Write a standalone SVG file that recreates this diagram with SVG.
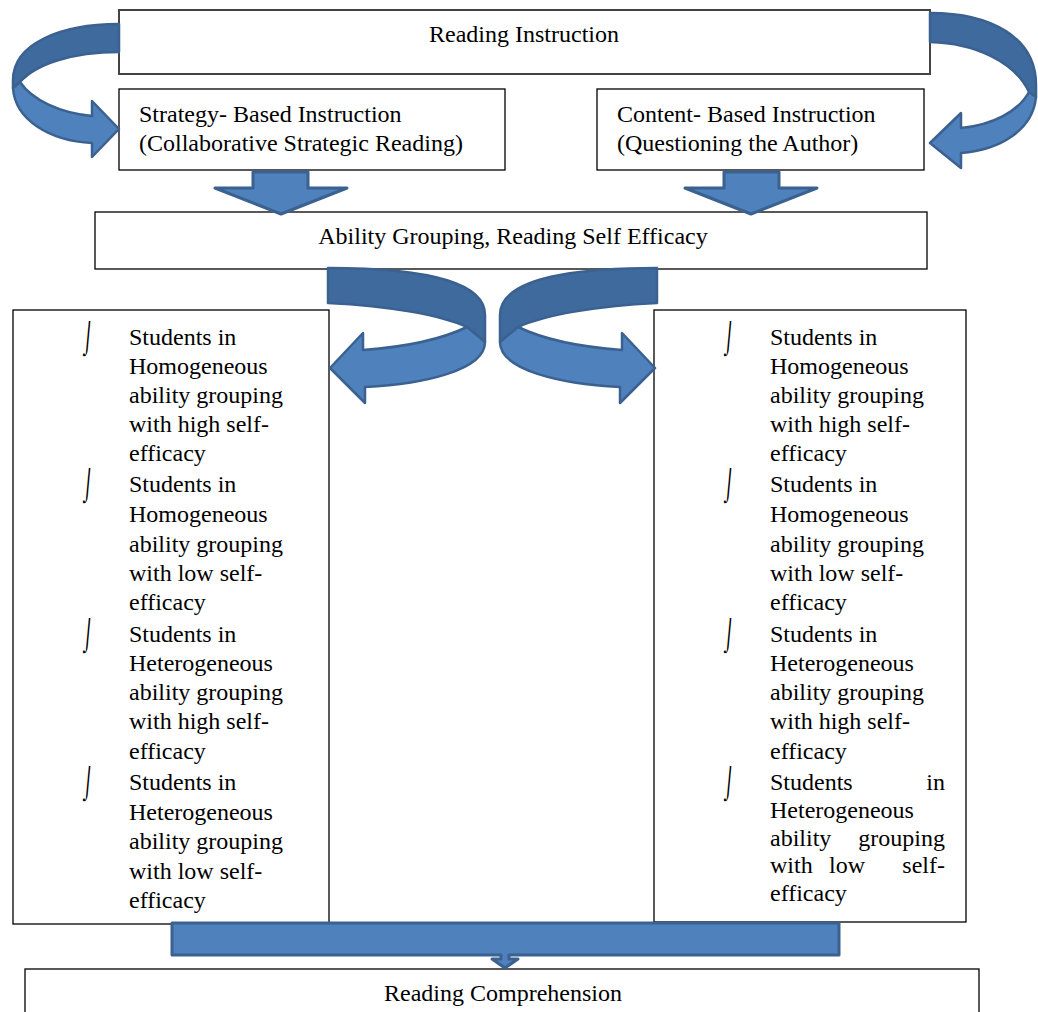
<svg xmlns="http://www.w3.org/2000/svg" width="1038" height="1012" viewBox="0 0 1038 1012">
<style>
.box{fill:#fff;stroke:#000;stroke-width:1.3}
.t{font-family:"Liberation Serif","Times New Roman",serif;font-size:24px;fill:#000}
.c{text-anchor:middle}
.e{text-anchor:end}
.b{font-family:"DejaVu Sans",sans-serif;font-weight:200;font-size:24px;fill:#000}
.lt{fill:#4F81BD;stroke:#3A6190;stroke-width:2.5;stroke-linejoin:round}
.dk{fill:#3F6A9E;stroke:#3A6190;stroke-width:2.5;stroke-linejoin:round}
</style>
<g id="reading-instruction"><rect class="box" x="119" y="10" width="811" height="64" style="stroke:#444;stroke-width:2"/><text class="t c" x="524" y="42">Reading Instruction</text></g>
<g id="strategy"><rect class="box" x="119" y="89" width="386" height="81"/><text class="t" x="139" y="122">Strategy- Based Instruction</text><text class="t" x="139" y="151">(Collaborative Strategic Reading)</text></g>
<g id="content"><rect class="box" x="597" y="89" width="327" height="81"/><text class="t" x="617" y="122">Content- Based Instruction</text><text class="t" x="617" y="151">(Questioning the Author)</text></g>
<g id="ability"><rect class="box" x="95" y="212" width="832" height="57"/><text class="t c" x="513" y="244">Ability Grouping, Reading Self Efficacy</text></g>
<g id="left-groups"><rect class="box" x="13" y="310" width="316" height="614"/>
<text class="b" transform="translate(81,347) scale(0.85,1.3) skewX(-8)">⌡</text><text class="b" transform="translate(81,494) scale(0.85,1.3) skewX(-8)">⌡</text><text class="b" transform="translate(81,644) scale(0.85,1.3) skewX(-8)">⌡</text><text class="b" transform="translate(81,792) scale(0.85,1.3) skewX(-8)">⌡</text>
<text class="t" x="129" y="345">Students in</text><text class="t" x="129" y="374">Homogeneous</text><text class="t" x="129" y="403">ability grouping</text><text class="t" x="129" y="432">with high self-</text><text class="t" x="129" y="461">efficacy</text>
<text class="t" x="129" y="492">Students in</text><text class="t" x="129" y="522">Homogeneous</text><text class="t" x="129" y="552">ability grouping</text><text class="t" x="129" y="581">with low self-</text><text class="t" x="129" y="610">efficacy</text>
<text class="t" x="129" y="642">Students in</text><text class="t" x="129" y="671">Heterogeneous</text><text class="t" x="129" y="700">ability grouping</text><text class="t" x="129" y="729">with high self-</text><text class="t" x="129" y="759">efficacy</text>
<text class="t" x="129" y="790">Students in</text><text class="t" x="129" y="820">Heterogeneous</text><text class="t" x="129" y="849">ability grouping</text><text class="t" x="129" y="879">with low self-</text><text class="t" x="129" y="908">efficacy</text>
</g>
<g id="right-groups"><rect class="box" x="654" y="310" width="312" height="612"/>
<text class="b" transform="translate(722,347) scale(0.85,1.3) skewX(-8)">⌡</text><text class="b" transform="translate(722,494) scale(0.85,1.3) skewX(-8)">⌡</text><text class="b" transform="translate(722,644) scale(0.85,1.3) skewX(-8)">⌡</text><text class="b" transform="translate(722,792) scale(0.85,1.3) skewX(-8)">⌡</text>
<text class="t" x="770" y="345">Students in</text><text class="t" x="770" y="374">Homogeneous</text><text class="t" x="770" y="403">ability grouping</text><text class="t" x="770" y="432">with high self-</text><text class="t" x="770" y="461">efficacy</text>
<text class="t" x="770" y="492">Students in</text><text class="t" x="770" y="522">Homogeneous</text><text class="t" x="770" y="552">ability grouping</text><text class="t" x="770" y="581">with low self-</text><text class="t" x="770" y="610">efficacy</text>
<text class="t" x="770" y="642">Students in</text><text class="t" x="770" y="671">Heterogeneous</text><text class="t" x="770" y="700">ability grouping</text><text class="t" x="770" y="729">with high self-</text><text class="t" x="770" y="759">efficacy</text>
<text class="t" x="770" y="790">Students</text><text class="t e" x="945" y="790">in</text>
<text class="t" x="770" y="818">Heterogeneous</text>
<text class="t" x="770" y="846">ability</text><text class="t e" x="945" y="846">grouping</text>
<text class="t" x="770" y="873">with</text><text class="t c" x="847" y="873">low</text><text class="t e" x="945" y="873">self-</text>
<text class="t" x="770" y="901">efficacy</text>
</g>
<g id="reading-comprehension"><rect class="box" x="25" y="969" width="954" height="60"/><text class="t c" x="503" y="1001">Reading Comprehension</text></g>
<g id="connectors">
<path class="dk" d="M119,24 C60,24 13,44 13,80 L13,88 L20,82 C36,64 72,52 119,52 Z"/>
<path class="lt" d="M13,88 C15,120 50,141 92,143 L92,157 L119,129 L92,101 L92,116 C60,113 32,100 20,82 Z"/>
<path class="dk" d="M930,13 C992,13 1036,38 1036,85 L1036,97 L1029,92 C1015,62 975,43 930,42 Z"/>
<path class="lt" d="M1036,97 C1033,130 1000,150 961,153 L961,168 L930,143 L961,113 L961,128 C992,125 1018,112 1029,92 Z"/>
<path class="lt" d="M253,172 L308,172 L308,188 L347,188 L281,214 L215,188 L253,188 Z" style="stroke-width:3"/>
<path class="lt" d="M724,172 L779,172 L779,188 L817,188 L751,214 L685,188 L724,188 Z" style="stroke-width:3"/>
<g id="split-left">
<path class="dk" d="M328,268 C425,268 485,282 485,315 L485,342 L467,327 C440,315 390,306 328,303 Z"/>
<path class="lt" d="M485,342 C485,370 425,384 365,387 L365,403 L330,368 L363,333 L363,350 C405,347 440,340 467,327 Z"/>
</g>
<g id="split-right" transform="translate(985,0) scale(-1,1)">
<path class="dk" d="M328,268 C425,268 485,282 485,315 L485,342 L467,327 C440,315 390,306 328,303 Z"/>
<path class="lt" d="M485,342 C485,370 425,384 365,387 L365,403 L330,368 L363,333 L363,350 C405,347 440,340 467,327 Z"/>
</g>
<path class="lt" d="M172,923 L839,923 L839,955 L509,955 L509,959 L518,959 L505,968 L492,959 L501,959 L501,955 L172,955 Z" style="stroke-width:3"/>
</g>
</svg>
